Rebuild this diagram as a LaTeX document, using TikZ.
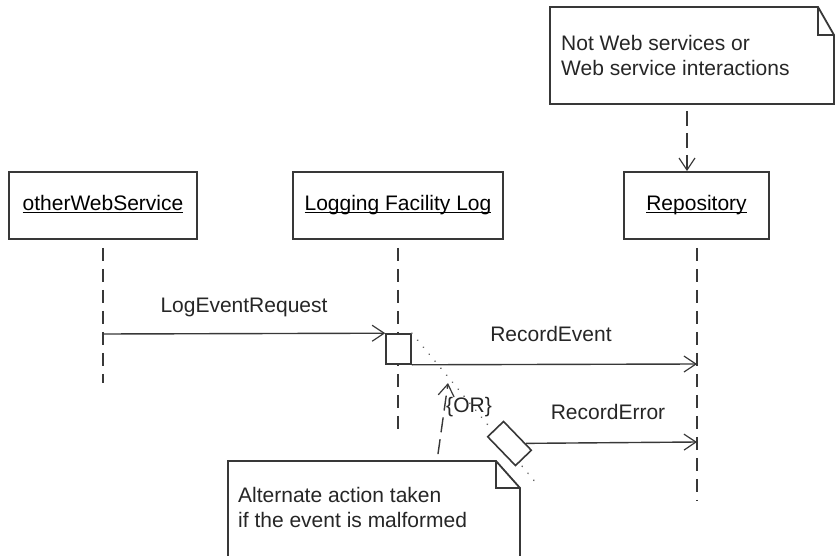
\documentclass[tikz,border=0pt]{standalone}
\usepackage{fontspec}
\setmainfont{Liberation Sans}
\usetikzlibrary{arrows.meta,calc}
\newcommand\myul[1]{\setbox0\hbox{#1}\rlap{\rule[-2.2pt]{\wd0}{1.1pt}}\box0}
\begin{document}
\begin{tikzpicture}[x=1pt,y=-1pt,
  ink/.style={draw=black!78},
  objbox/.style={ink, line width=1.8pt, fill=white, minimum height=67pt, inner sep=0pt,
    text height=15pt, text depth=4pt, font=\fontsize{21}{25}\selectfont},
  lifeline/.style={ink, line width=1.6pt, dash pattern=on 13pt off 8pt, dash phase=13pt},
  tip/.style={-{Straight Barb[length=12pt,width=16pt,line width=1.2pt]}},
  msg/.style={ink, line width=1.4pt, tip},
  dep/.style={ink, line width=1.4pt, dash pattern=on 15pt off 7pt, dash phase=15pt, tip},
  actbox/.style={ink, line width=1.6pt, fill=white, inner sep=0pt},
  notepath/.style={ink, line width=1.8pt, fill=white, line join=miter},
  txt/.style={font=\fontsize{21}{25}\selectfont, inner sep=0pt, text=black!85},
  trace/.style={draw=black!60, line width=1.8pt, dash pattern=on 0.1pt off 9pt, line cap=round}
]
\useasboundingbox (0,0) rectangle (835,556);
\clip (0,0) rectangle (835,556);

% object boxes
\node[objbox, minimum width=188pt] (ows) at (103,205.5) {\myul{otherWebService}};
\node[objbox, minimum width=210pt] (log) at (398,205.5) {\myul{Logging Facility Log}};
\node[objbox, minimum width=145pt] (rep) at (696.5,205.5) {\myul{Repository}};

% lifeline ends
\coordinate (owsE) at (103,383);
\coordinate (logE) at (398,432);
\coordinate (repE) at (697,500);
\draw[lifeline] (ows.south) -- (owsE);
\draw[lifeline] (log.south) -- (logE);
\draw[lifeline] ([xshift=0.5pt]rep.south) -- (repE);

% message end points
\coordinate (m1s) at (103,334);
\coordinate (reE1) at (697,364);
\coordinate (reE2) at (697,442);
\coordinate (trEnd) at (536,483);

% activation boxes
\node[actbox, minimum width=25pt, minimum height=30pt] (act1) at (398.5,349) {};
\draw[trace] (act1.north east) -- (trEnd);
\node[actbox, minimum width=40pt, minimum height=22pt, rotate=-46] (act2) at (509.5,443.5) {};

% messages
\draw[msg] (m1s) -- (act1.north west);
\draw[msg] (act1.south east) -- (reE1);
\draw[msg] (act2) -- (reE2);

\node[txt] (l1) at (244,307) {LogEventRequest};
\node[txt] (l2) at (551,334) {RecordEvent};
\node[txt] (l3) at (608,412) {RecordError};
\node[txt] (l4) at (469,407) {\{OR\}};

% top note
\draw[notepath] (550,104) -- (550,7) -- (818,7) -- (834,35) -- (834,104) -- cycle;
\draw[notepath, fill=none] (818,7) -- (818,35) -- (834,35);
\node[txt, anchor=north west, align=left] (n1) at (561,35.5) {Not Web services or\\Web service interactions};
\coordinate (n1b) at (687,104);
\draw[dep] (n1b) -- (n1b |- rep.north);

% bottom note
\draw[notepath] (228,570) -- (228,461) -- (496,461) -- (520,488) -- (520,570) -- cycle;
\draw[notepath, fill=none] (496,461) -- (496,488) -- (520,488);
\node[txt, anchor=north west, align=left] (n2) at (238,487.5) {Alternate action taken\\if the event is malformed};
\coordinate (n2t) at (437,461);
\coordinate (orTip) at (448,383);
\draw[dep] (n2t) -- (orTip);
\end{tikzpicture}
\end{document}
